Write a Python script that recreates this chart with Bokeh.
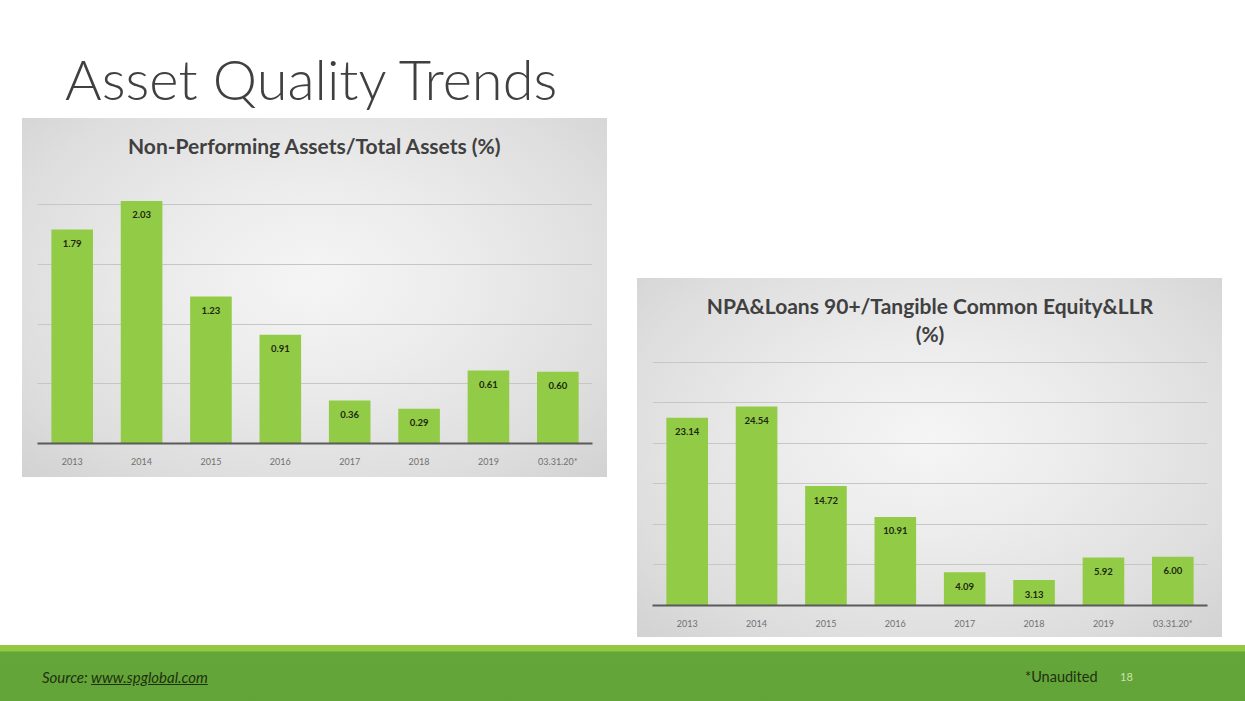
from bokeh.plotting import figure
from bokeh.models import (ColumnDataSource, FactorRange, Range1d, FixedTicker, Label, Div, Spacer)
from bokeh.layouts import column, row
from bokeh.core.properties import value
from bokeh.embed import file_html
from bokeh.resources import INLINE

# ---------------- data ----------------
categories = ["2013", "2014", "2015", "2016", "2017", "2018", "2019", "03.31.20*"]
npa_total_assets = [1.79, 2.03, 1.23, 0.91, 0.36, 0.29, 0.61, 0.60]
npa_tce_llr = [23.14, 24.54, 14.72, 10.91, 4.09, 3.13, 5.92, 6.00]
grid1_ticks = [0.5, 1.0, 1.5, 2.0]
grid2_ticks = [5, 10, 15, 20, 25, 30]
title1_lines = ["Non-Performing Assets/Total Assets (%)"]
title2_lines = ["NPA&Loans 90+/Tangible Common Equity&LLR", "(%)"]

FONT = "Lato"
BAR = "#92cb46"
PANEL_BG = ("radial-gradient(ellipse at 50% 45%, #f5f5f5 0%, #ececec 35%, "
            "#dedede 75%, #d2d2d2 100%)")
W, H, BL, BR = 585, 359, 15, 15


def make_chart(vals, lines, title_y, yend, ticks, min_bottom, fmt):
    src = ColumnDataSource(dict(cat=categories, val=vals,
                                lbl=[fmt.format(v) for v in vals]))
    p = figure(x_range=FactorRange(*categories, range_padding=0),
               y_range=Range1d(0, yend),
               width=W, height=H, output_backend="svg",
               toolbar_location=None, tools="",
               min_border_left=BL, min_border_right=BR,
               min_border_top=0, min_border_bottom=min_bottom)
    p.background_fill_color = None
    p.border_fill_color = None
    p.outline_line_color = None
    p.styles = {"background": PANEL_BG}
    p.vbar(x="cat", top="val", width=0.6, source=src,
           fill_color=BAR, line_color=None)
    p.text(x="cat", y="val", text="lbl", source=src,
           text_font=value(FONT), text_font_style="bold",
           text_font_size="9.5px", text_color="#1c2810",
           text_align="center", text_baseline="middle", y_offset=14)
    p.yaxis.visible = False
    p.xgrid.grid_line_color = None
    p.ygrid.ticker = FixedTicker(ticks=ticks)
    p.ygrid.grid_line_color = "#c6c6c6"
    p.ygrid.grid_line_width = 1
    ax = p.xaxis[0]
    ax.axis_line_color = "#5a5a5a"
    ax.axis_line_width = 2
    ax.major_tick_line_color = None
    ax.major_tick_out = 0
    ax.major_tick_in = 0
    ax.major_label_standoff = 12
    ax.major_label_text_font = FONT
    ax.major_label_text_font_size = "9px"
    ax.major_label_text_color = "#707070"
    frame_w = W - BL - BR
    for text, ty in zip(lines, title_y):
        p.add_layout(Label(x=frame_w / 2, y=ty, x_units="screen", y_units="screen",
                           text=text, text_align="center", text_baseline="middle",
                           text_font=FONT, text_font_size="21px",
                           text_font_style="bold", text_color="#404040"))
    return p


# frame heights: chart1 = 359-34 = 325, chart2 = 359-32 = 327
p1 = make_chart(npa_total_assets, title1_lines, [298], 2.72, grid1_ticks, 34, "{:.2f}")
p2 = make_chart(npa_tce_llr, title2_lines, [300, 272], 40.3, grid2_ticks, 32, "{:.2f}")

title_div = Div(width=607, height=118, margin=0, text=(
    '<div style="position:relative;width:607px;height:118px;">'
    '<div style="position:absolute;left:65px;top:48px;font-family:Lato;'
    'font-weight:300;font-size:56px;line-height:62px;color:#404040;white-space:nowrap;">'
    'Asset Quality Trends</div></div>'))

footer = Div(width=1245, height=56, margin=0, text=(
    '<div style="position:relative;width:1245px;height:56px;'
    'background:linear-gradient(to bottom,#93c940 0px,#93c940 6px,#64a63a 7px,#62a438 100%);">'
    '<div style="position:absolute;left:42px;top:22px;font-family:Lato;font-style:italic;'
    'font-size:15px;color:#1f300f;white-space:nowrap;">Source: '
    '<span style="text-decoration:underline;">www.spglobal.com</span></div>'
    '<div style="position:absolute;left:1025px;top:22px;font-family:Lato;'
    'font-size:14.5px;color:#1f300f;white-space:nowrap;">*Unaudited</div>'
    '<div style="position:absolute;left:1120px;top:24px;font-family:Lato;'
    'font-size:11px;color:#c8e4a8;white-space:nowrap;">18</div>'
    '</div>'))

left_col = column(title_div, row(Spacer(width=22, height=359, margin=0), p1),
                  Spacer(width=607, height=168, margin=0), spacing=0)
right_col = column(Spacer(width=615, height=278, margin=0),
                   row(Spacer(width=30, height=359, margin=0), p2),
                   Spacer(width=615, height=8, margin=0), spacing=0)
top = row(left_col, right_col, spacing=0)
layout = column(top, footer, spacing=0)

open("out.html", "w").write(file_html(layout, INLINE))
